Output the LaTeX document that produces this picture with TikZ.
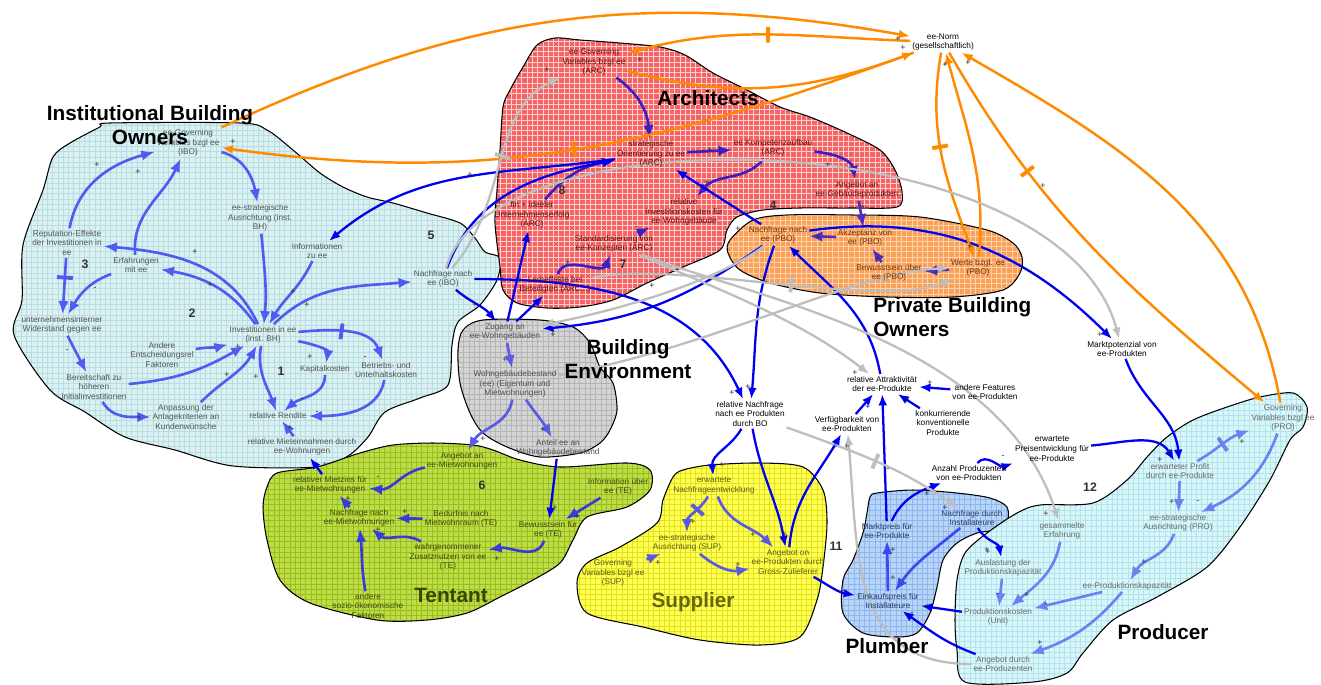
\documentclass[tikz,border=0pt]{standalone}
\usepackage{fontspec}
\setmainfont{Liberation Sans}
\usetikzlibrary{arrows.meta,patterns,decorations.markings}
\pgfdeclarelayer{blobs}
\pgfdeclarelayer{edges}
\pgfsetlayers{blobs,edges,main}
\definecolor{iboF}{HTML}{DCF0F2}\definecolor{iboP}{HTML}{B5DDE2}
\definecolor{arcF}{HTML}{F46464}\definecolor{arcP}{HTML}{FFD0D0}
\definecolor{pboF}{HTML}{F9A15A}\definecolor{pboP}{HTML}{FFD3A8}
\definecolor{beF}{HTML}{D4D4D4}\definecolor{beP}{HTML}{B4B4B4}
\definecolor{teF}{HTML}{BEDC48}\definecolor{teP}{HTML}{98BE1E}
\definecolor{supF}{HTML}{FFFF55}\definecolor{supP}{HTML}{E2E21C}
\definecolor{pluF}{HTML}{B8D4F8}\definecolor{pluP}{HTML}{8CB6EC}
\definecolor{proF}{HTML}{DAF6FA}\definecolor{proP}{HTML}{B2E4EC}
\definecolor{inblue}{HTML}{4F5CF2}\definecolor{arcB}{HTML}{3A1FC4}
\definecolor{pboB}{HTML}{4E2CC8}\definecolor{beB}{HTML}{5A5AE6}
\definecolor{teB}{HTML}{3A3ADB}\definecolor{supB}{HTML}{5A5AE0}
\definecolor{pluB}{HTML}{3A4AF0}\definecolor{proB}{HTML}{6A82F2}
\definecolor{dkblue}{HTML}{0000F0}\definecolor{orng}{HTML}{FF8A00}
\definecolor{lgray}{HTML}{BEBEBE}
\definecolor{iboT}{HTML}{555555}\definecolor{arcT}{HTML}{5A1010}
\definecolor{pboT}{HTML}{74340F}\definecolor{beT}{HTML}{505050}
\definecolor{teT}{HTML}{3F4812}\definecolor{supT}{HTML}{5C5C14}
\definecolor{pluT}{HTML}{2C3A66}\definecolor{proT}{HTML}{6A6A6A}
\definecolor{polT}{HTML}{333333}\definecolor{teTitle}{HTML}{3A4500}
\definecolor{supTitle}{HTML}{66660A}
\tikzset{
 lab/.style={align=center,font=\fontsize{4.7}{5.5}\selectfont,inner sep=1pt},
 ibo/.style={lab,text=iboT}, arc/.style={lab,text=arcT}, pbo/.style={lab,text=pboT},
 bev/.style={lab,text=beT}, ten/.style={lab,text=teT}, sup/.style={lab,text=supT},
 plu/.style={lab,text=pluT}, pro/.style={lab,text=proT}, outl/.style={lab,text=black},
 title/.style={font=\fontsize{11.8}{14}\selectfont\bfseries,align=center,inner sep=0pt},
 num/.style={font=\fontsize{7}{7}\selectfont\bfseries,text=polT,inner sep=0pt},
 pol/.style={font=\fontsize{5}{5}\selectfont,inner sep=0pt,text=#1},
 tipa/.style={-{Latex[length=6.5pt,width=5pt]}},
 tipb/.style={-{Latex[length=7.5pt,width=6pt]}},
 inb/.style={tipb,draw=inblue,line width=1.5pt},
 arcb/.style={tipb,draw=arcB,line width=1.5pt},
 pbob/.style={tipb,draw=pboB,line width=1.5pt},
 beb/.style={tipb,draw=beB,line width=1.5pt},
 teb/.style={tipb,draw=teB,line width=1.5pt},
 supb/.style={tipb,draw=supB,line width=1.5pt},
 plub/.style={tipb,draw=pluB,line width=1.5pt},
 prob/.style={tipb,draw=proB,line width=1.5pt},
 dkb/.style={tipa,draw=dkblue,line width=1.3pt},
 org/.style={tipa,draw=orng,line width=1.4pt},
 gry/.style={tipa,draw=lgray,line width=1.3pt},
 dmark/.style 2 args={postaction={decorate,decoration={markings,mark=at position #1 with {\draw[draw=#2,line width=2.2pt,-] (0,-4.5pt)--(0,4.5pt);}}}},
 blobsty/.style 2 args={fill=#1,postaction={pattern=grid,pattern color=#2},postaction={draw=black,line width=0.6pt}},
}
\begin{document}
\begin{tikzpicture}[x=0.02cm,y=-0.02cm]
\useasboundingbox (0,0) rectangle (1321,684);
\begin{pgfonlayer}{blobs}
\fill[white] (0,0) rectangle (1321,684);
\path[blobsty={iboF}{iboP}] plot[smooth cycle,tension=0.5] coordinates {(110,123) (240,123) (267,130) (293,150) (320,173) (343,187) (367,197) (393,203) (427,213) (460,223) (475,238) (485,252) (500,258) (497,280) (480,305) (458,322) (452,345) (448,385) (420,398) (385,412) (368,437) (348,456) (318,467) (233,466) (175,450) (125,437) (85,412) (50,390) (14,335) (22,300) (23,245) (43,190) (53,157) (70,143) (100,127)};
\path[blobsty={arcF}{arcP}] plot[smooth cycle,tension=0.5] coordinates {(537,45) (555,38) (580,40) (620,43) (660,47) (685,55) (713,73) (747,90) (780,107) (810,117) (847,133) (880,150) (895,170) (902,192) (897,207) (850,208) (800,208) (763,210) (737,217) (727,230) (720,250) (683,267) (647,283) (613,300) (580,307) (547,308) (517,303) (503,290) (500,267) (495,223) (497,190) (500,150) (503,107) (510,90) (523,67)};
\path[blobsty={pboF}{pboP}] plot[smooth cycle,tension=0.5] coordinates {(730,240) (753,220) (787,215) (853,215) (920,217) (987,230) (1013,243) (1022,257) (1020,273) (1003,290) (953,297) (887,297) (820,293) (770,283) (740,270) (728,253)};
\path[blobsty={beF}{beP}] plot[smooth cycle,tension=0.5] coordinates {(463,330) (483,320) (540,320) (573,327) (590,343) (600,367) (613,383) (617,410) (610,430) (600,443) (580,453) (540,457) (507,447) (483,433) (470,413) (460,383) (458,350)};
\path[blobsty={teF}{teP}] plot[smooth cycle,tension=0.5] coordinates {(277,473) (317,467) (360,453) (393,445) (433,443) (473,445) (493,450) (520,460) (560,467) (627,463) (650,470) (650,490) (627,507) (587,517) (573,540) (560,563) (533,580) (500,597) (467,613) (427,620) (377,620) (310,603) (280,580) (267,540) (263,507) (267,487)};
\path[blobsty={supF}{supP}] plot[smooth cycle,tension=0.5] coordinates {(673,477) (683,470) (710,465) (760,463) (803,467) (823,490) (827,523) (823,567) (817,600) (800,637) (760,645) (700,640) (643,627) (587,613) (577,583) (587,563) (620,547) (657,523) (663,500)};
\path[blobsty={pluF}{pluP}] plot[smooth cycle,tension=0.5] coordinates {(870,497) (877,493) (913,490) (957,493) (990,498) (1007,507) (1007,523) (997,530) (977,533) (957,543) (943,560) (937,587) (930,613) (917,633) (897,637) (863,633) (843,613) (843,580) (853,560) (863,533) (867,513)};
\path[blobsty={proF}{proP}] plot[smooth cycle,tension=0.5] coordinates {(1227,407) (1260,397) (1293,393) (1307,407) (1303,427) (1290,440) (1270,480) (1240,527) (1207,567) (1157,597) (1113,620) (1083,653) (1067,673) (1033,682) (965,682) (957,650) (955,620) (957,580) (965,553) (987,533) (1017,513) (1040,505) (1093,503) (1127,480) (1147,457) (1167,437) (1193,420)};
\end{pgfonlayer}
% IBO
\node[ibo] (igov) at (188,143) {ee-Governing\\Variables bzgl ee\\(IBO)};
\node[ibo] (istr) at (260,218) {ee-strategische\\Ausrichtung (inst.\\BH)};
\node[ibo] (irep) at (67,243) {Reputation-Effekte\\der Investitionen in\\ee};
\node[ibo] (ierf) at (136,265) {Erfahrungen\\mit ee};
\node[ibo] (iinfo) at (317,251) {Informationen\\zu ee};
\node[ibo] (inach) at (443,279) {Nachfrage nach\\ee (IBO)};
\node[ibo] (iwid) at (62,325) {unternehmensinterner\\Widerstand gegen ee};
\node[ibo] (iinv) at (263,335) {Investitionen in ee\\(inst. BH)};
\node[ibo] (iand) at (162,355) {Andere\\Entscheidungsrel\\Faktoren};
\node[ibo] (ibereit) at (94,387) {Bereitschaft zu\\höheren\\Initialinvestitionen};
\node[ibo] (ikap) at (325,369) {Kapitalkosten};
\node[ibo] (ibetr) at (386,370) {Betriebs- und\\Unterhaltskosten};
\node[ibo] (ianp) at (186,417) {Anpassung der\\Anlagekriterien an\\Kundenwünsche};
\node[ibo] (irend) at (278,416) {relative Rendite};
\node[ibo] (imiet) at (302,447) {relative Mieteinnahmen durch\\ee-Wohnungen};
% ARC
\node[arc] (agov) at (594,62) {ee-Governing\\Variables bzgl ee\\(ARC)};
\node[arc] (astrat) at (651,154) {strategische\\Orientierung zu ee\\(ARC)};
\node[arc] (akomp) at (773,148) {ee Kompetenzaufbau\\(ARC)};
\node[arc] (aang) at (857,190) {Angebot an\\ee-Gebäudeprodukten};
\node[arc] (afin) at (532,215) {fin + ideeler\\Unternehmenserfolg\\(ARC)};
\node[arc] (ainv) at (684,212) {relative\\Investitionskosten für\\ee-Wohngebäude};
\node[arc] (astd) at (614,244) {Standardisierung von\\ee-Konzepten (ARC)};
\node[arc] (alern) at (555,285) {Lerneffekte bei\\Beteiligten (ARC...)};
% PBO
\node[pbo] (pnach) at (778,235) {Nachfrage nach\\ee (PBO)};
\node[pbo] (pakz) at (865,238) {Akzeptanz von\\ee (PBO)};
\node[pbo] (pbew) at (889,273) {Bewusstsein über\\ee (PBO)};
\node[pbo] (pwerte) at (978,268) {Werte bzgl. ee\\(PBO)};
\node[outl] (norm) at (943,42) {ee-Norm\\(gesellschaftlich)};
% BE
\node[bev] (bzug) at (505,332) {Zugang an\\ee-Wohngebäuden};
\node[bev] (bbest) at (515,384) {Wohngebäudebestand\\(ee) (Eigentum und\\Mietwohnungen)};
\node[bev] (banteil) at (558,448) {Anteil ee an\\Wohngebäudebestand};
% outside
\node[outl] (relnach) at (750,414) {relative Nachfrage\\nach ee Produkten\\durch BO};
\node[outl] (relattr) at (882,384) {relative Attraktivität\\der ee-Produkte};
\node[outl] (andfeat) at (985,392) {andere Features\\von ee-Produkten};
\node[outl] (konk) at (943,423) {konkurrierende\\konventionelle\\Produkte};
\node[outl] (verf) at (847,424) {Verfügbarkeit von\\ee-Produkten};
\node[outl] (markt) at (1122,349) {Marktpotenzial von\\ee-Produkten};
\node[outl] (erwpreis) at (1052,449) {erwartete\\Preisentwicklung für\\ee-Produkte};
\node[outl] (anzprod) at (969,473) {Anzahl Produzenten\\von ee-Produkten};
% TE
\node[ten] (tang) at (462,461) {Angebot an\\ee-Mietwohnungen};
\node[ten] (tmiet) at (330,485) {relativer Mietzins für\\ee-Mietwohnungen};
\node[ten] (tinfo) at (618,487) {Information über\\ee (TE)};
\node[ten] (tnach) at (359,518) {Nachfrage nach\\ee-Mietwohnungen};
\node[ten] (tbed) at (461,519) {Bedürfnis nach\\Mietwohnraum (TE)};
\node[ten] (tbew) at (548,530) {Bewusstsein für\\ee (TE)};
\node[ten] (twahr) at (448,557) {wahrgenommener\\Zusatznutzen von ee\\(TE)};
\node[ten] (tandere) at (368,606) {andere\\sozio-ökonomische\\Faktoren};
% SUP
\node[sup] (serw) at (714,486) {erwartete\\Nachfrageentwicklung};
\node[sup] (sstr) at (687,543) {ee-strategische\\Ausrichtung (SUP)};
\node[sup] (sgov) at (613,573) {Governing\\Variables bzgl ee\\(SUP)};
\node[sup] (sang) at (788,562) {Angebot on\\ee-Produkten durch\\Gross-Zulieferer};
% PLU
\node[plu] (lmarkt) at (887,531) {Marktpreis für\\ee-Produkte};
\node[plu] (lnach) at (972,518) {Nachfrage durch\\Installateure};
\node[plu] (leink) at (888,601) {Einkaufspreis für\\Installateure};
% PRO
\node[pro] (rgov) at (1283,418) {Governing\\Variables bzgl ee\\(PRO)};
\node[pro] (rprof) at (1180,471) {erwarteter Profit\\durch ee-Produkte};
\node[pro] (rstr) at (1178,523) {ee-strategische\\Ausrichtung (PRO)};
\node[pro] (rges) at (1062,531) {gesammelte\\Erfahrung};
\node[pro] (raus) at (1003,568) {Auslastung der\\Produktionskapazität};
\node[pro] (rkap) at (1127,586) {ee-Produktionskapazität};
\node[pro] (rkost) at (998,617) {Produktionskosten\\(Unit)};
\node[pro] (rang) at (1003,664) {Angebot durch\\ee-Produzenten};
% numbers
\node[num] (n1) at (281,371) {1};
\node[num] (n2) at (192,313) {2};
\node[num] (n3) at (85,264) {3};
\node[num] (n4) at (773,205) {4};
\node[num] (n5) at (431,235) {5};
\node[num] (n6) at (482,485) {6};
\node[num] (n7) at (623,264) {7};
\node[num] (n8) at (562,190) {8};
\node[num] (n11) at (836,546) {11};
\node[num] (n12) at (1090,487) {12};
% polarities
\foreach \x/\y/\s [count=\i] in {97/165/+,138/172/+,233/142/+,195/252/+,210/285/+,95/289/-,293/292/+,307/305/+,67/351/-,238/347/+,227/375/+,256/377/+,310/357/+,365/358/-,302/400/-,317/413/-,290/428/+,139/418/+,470/175/+,475/305/+,325/465/+,547/70/+,640/60/+,710/150/+,828/165/+,500/203/+,568/182/-,707/183/+,637/228/-,568/263/+,520/280/+,652/286/+,738/229/+,863/207/+,818/238/+,878/259/+,937/273/+,970/247/+,898/39/+,903/48/+,945/65/+,968/63/+,1043/186/+,505/360/+,483/439/+,543/430/+,553/335/+,748/387/+,732/393/+,722/465/+,930/383/+,908/401/-,888/470/-,847/447/+,1003/457/-,1100/335/+,855/373/+,693/522/+,753/535/+,658/563/+,738/565/+,785/535/+,927/494/+,893/578/+,893/550/+,987/550/+,927/607/+,912/614/-,843/592/-,945/508/+,998/595/-,1027/595/+,1046/605/-,1040/643/+,1144/562/+,1172/502/+,1198/502/-,1242/442/+,1170/452/+,1160/460/+,1046/514/+,988/552/+,378/478/-,348/499/+,405/512/+,378/530/+,497/559/+,577/517/+,555/508/+}
 {\node[pol=polT] (pp\i) at (\x,\y) {\s};}
\node[pol=dkblue] (pb1) at (868,407) {+};
\node[pol=dkblue] (pb2) at (835,447) {+};
\begin{pgfonlayer}{edges}
% IBO
\draw[inb] (irep) to[out=80,in=195] (igov);
\draw[inb] (ierf) to[out=95,in=245] (igov);
\draw[inb] (igov) to[out=-15,in=100] (istr);
\draw[inb] (istr) to[out=-85,in=85] (iinv);
\draw[inb] (iinv) to[out=115,in=-5] (irep);
\draw[inb] (iinv) to[out=125,in=-10] (ierf);
\draw[inb] (iinfo) to[out=-115,in=60] (iinv);
\draw[inb] (iinv) to[out=45,in=185] (inach);
\draw[inb,dmark={0.35}{inblue}] (irep) -- (iwid);
\draw[inb] (ierf) to[out=200,in=60] (iwid);
\draw[inb] (iwid) -- (ibereit);
\draw[inb] (ibereit) to[out=5,in=210] (iinv);
\draw[inb] (iand) to[out=10,in=195] (iinv);
\draw[inb] (ianp) to[out=45,in=240] (iinv);
\draw[inb] (ibereit) to[out=-60,in=180] (ianp);
\draw[inb] (iinv) to[out=-100,in=110] (irend);
\draw[inb] (iinv) to[out=-10,in=80] (ikap);
\draw[inb,dmark={0.45}{inblue}] (iinv) to[out=5,in=110] (ibetr);
\draw[inb] (ikap) to[out=-90,in=40] (irend);
\draw[inb] (ibetr) to[out=-100,in=0] (irend);
\draw[inb] (imiet) -- (irend);
\draw[dkb] (tmiet) -- (imiet);
% ARC
\draw[arcb] (agov) to[out=-35,in=95] (astrat);
\draw[arcb] (astrat) -- (akomp);
\draw[arcb] (akomp) to[out=-5,in=100] (aang);
\draw[arcb] (akomp) to[out=230,in=50] (ainv);
\draw[arcb] (afin) to[out=50,in=190] (astrat);
\draw[arcb] (astd) -- (ainv);
\draw[arcb] (alern) to[out=75,in=250] (astd);
% PBO
\draw[pbob] (aang) -- (pakz);
\draw[pbob] (pakz) -- (pnach);
\draw[pbob] (pbew) -- (pakz);
\draw[pbob] (pwerte) -- (pbew);
% dark blue
\draw[dkb] (pnach) to[out=8,in=135] (markt);
\draw[dkb] (pnach) -- (astrat);
\draw[dkb] (bzug) -- (afin);
\draw[dkb] (bzug) -- (alern);
\draw[dkb] (inach) to[out=70,in=190] (astrat);
\draw[dkb] (astrat) to[out=188,in=40] (iinfo);
\draw[dkb] (inach) to[out=-40,in=130] (bzug);
\draw[dkb] (pnach) to[out=215,in=5] (bzug);
\draw[dkb] (inach) to[out=0,in=115] (relnach);
\draw[dkb] (pnach) to[out=-110,in=85] (relnach);
\draw[dkb] (relnach) to[out=-120,in=95] (serw);
\draw[dkb] (relnach) to[out=-80,in=100] (sang);
\draw[dkb] (sang) to[out=85,in=240] (verf);
\draw[dkb] (sang) to[out=-30,in=170] (leink);
\draw[dkb] (verf) -- (relattr);
\draw[dkb] (lmarkt) -- (relattr);
\draw[dkb] (konk) -- (relattr);
\draw[dkb] (andfeat) -- (relattr);
\draw[dkb] (relattr) to[out=100,in=-45] (pnach);
\draw[dkb] (markt) to[out=-70,in=95] (rprof);
\draw[dkb] (erwpreis) to[out=5,in=120] (rprof);
\draw[dkb] (anzprod) to[out=50,in=200] (erwpreis);
\draw[dkb] (lmarkt) to[out=65,in=200] (anzprod);
\draw[dkb] (lnach) to[out=-60,in=100] (raus);
\draw[dkb] (rkost) -- (leink);
\draw[dkb] (rang) to[out=160,in=-35] (leink);
\draw[dkb] (banteil) -- (tbew);
% BE
\draw[beb] (bzug) -- (bbest);
\draw[beb] (bbest) to[out=-100,in=60] (tang);
\draw[beb] (bbest) to[out=-55,in=120] (banteil);
% TE
\draw[teb] (tang) to[out=190,in=-5] (tmiet);
\draw[teb] (tnach) -- (tmiet);
\draw[teb] (tbed) -- (tnach);
\draw[teb] (twahr) to[out=150,in=-40] (tnach);
\draw[teb] (tandere) to[out=100,in=-85] (tnach);
\draw[teb] (tbew) to[out=-110,in=10] (twahr);
\draw[teb] (tinfo) -- (tbew);
% SUP
\draw[supb,dmark={0.4}{supB}] (serw) to[out=-120,in=90] (sstr);
\draw[supb] (serw) to[out=-70,in=135] (sang);
\draw[supb] (sgov) -- (sstr);
\draw[supb] (sstr) to[out=-40,in=190] (sang);
% PLU
\draw[plub] (lnach) to[out=220,in=55] (leink);
\draw[plub] (leink) -- (lmarkt);
% PRO
\draw[prob] (raus) -- (rkost);
\draw[prob] (rges) to[out=-100,in=40] (rkost);
\draw[prob] (rkap) -- (rkost);
\draw[prob] (rkap) to[out=-130,in=20] (rang);
\draw[prob] (rstr) to[out=-110,in=60] (rkap);
\draw[prob] (rprof) -- (rstr);
\draw[prob,dmark={0.5}{proB}] (rprof) to[out=30,in=200] (rgov);
\draw[prob] (rgov) to[out=-110,in=25] (rstr);
% orange
\draw[org] (igov) to[out=25,in=170] (norm);
\draw[org,dmark={0.5}{orng}] (norm) to[out=178,in=15] (agov);
\draw[org] (agov) to[out=-15,in=200] (norm);
\draw[org,dmark={0.5}{orng}] (norm) to[out=200,in=-8] (igov);
\draw[org,dmark={0.45}{orng}] (norm) to[out=-100,in=110] (pwerte);
\draw[org] (pwerte) to[out=85,in=-75] (norm);
\draw[org,dmark={0.3}{orng}] (norm) to[out=-60,in=140] (rgov);
\draw[org] (rgov) to[out=100,in=-30] (norm);
% gray
\draw[gry,dmark={0.55}{lgray}] (inach) .. controls (510,200) and (490,110) .. (agov);
\draw[gry] (inach) .. controls (490,110) and (1060,120) .. (markt);
\draw[gry] (astd) .. controls (760,300) and (1000,340) .. (rges);
\draw[gry] (astd) .. controls (720,290) and (800,320) .. (relattr);
\draw[gry,dmark={0.55}{lgray}] (alern) .. controls (680,260) and (880,310) .. (pwerte);
\draw[gry] (bbest) .. controls (720,345) and (860,270) .. (pwerte);
\draw[gry] (pnach) .. controls (720,280) and (620,310) .. (bzug);
\draw[gry,dmark={0.5}{lgray}] (relnach) to[out=-20,in=145] (lnach);
\draw[gry] (rang) to[out=180,in=-85,looseness=1.2] (verf);
\end{pgfonlayer}
% titles
\node[title] (tibo) at (150,125) {Institutional Building\\Owners};
\node[title] (tarc) at (708,98) {Architects};
\node[title,align=left,anchor=west] (tpbo) at (873,317) {Private Building\\Owners};
\node[title] (tbe) at (628,359) {Building\\Environment};
\node[title,text=teTitle] (tte) at (451,595) {Tentant};
\node[title,text=supTitle] (tsup) at (693,602) {Supplier};
\node[title] (tplu) at (887,646) {Plumber};
\node[title] (tpro) at (1163,632) {Producer};
\end{tikzpicture}
\end{document}
